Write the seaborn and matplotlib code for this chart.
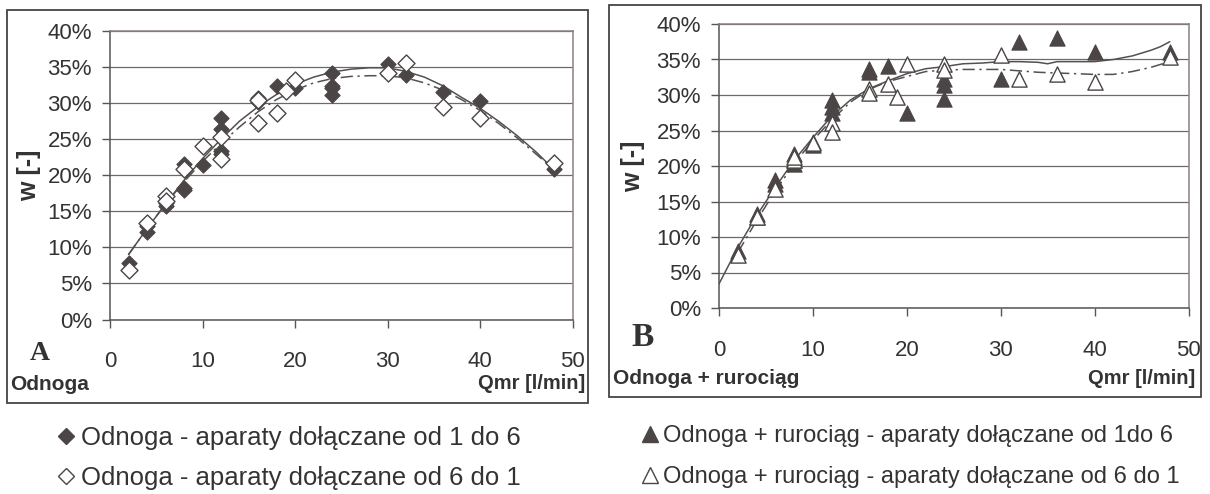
import matplotlib
matplotlib.use("Agg")
import matplotlib.pyplot as plt
import seaborn as sns
from matplotlib.lines import Line2D
from matplotlib.patches import Rectangle
from matplotlib.ticker import PercentFormatter, MultipleLocator

# --- panel A: Odnoga ---
a_x_full = [2, 4, 4, 6, 6, 8, 8, 8, 10, 12, 12, 12, 12, 16, 16, 18, 20, 24, 24, 24, 24, 30, 32, 36, 40, 48]
a_y_full = [7.8, 12.2, 12.9, 16.1, 15.7, 21.6, 18.2, 17.9, 21.4, 27.9, 26.4, 23.4, 23.0, 30.7, 30.2, 32.4,
            32.1, 34.2, 32.4, 32.1, 31.1, 35.4, 33.9, 31.6, 30.3, 20.9]
a_x_open = [2, 4, 6, 6, 8, 10, 12, 12, 16, 16, 18, 19, 20, 30, 32, 36, 40, 48]
a_y_open = [6.8, 13.4, 17.1, 16.4, 20.8, 24.0, 25.3, 22.3, 27.3, 30.4, 28.7, 31.7, 33.2, 34.2, 35.5, 29.4,
            28.0, 21.7]
a_trend_x = [2, 4, 6, 8, 10, 12, 14, 16, 18, 20, 22, 24, 26, 28, 30, 32, 34, 36, 38, 40, 42, 44, 46, 48]
a_trend_full = [9.0, 12.6, 16.0, 19.3, 22.3, 25.0, 27.5, 29.5, 31.2, 32.6, 33.6, 34.3, 34.7, 34.9, 34.9,
                34.4, 33.6, 32.4, 30.8, 29.3, 27.5, 25.5, 23.3, 20.8]
a_trend_open = [9.0, 12.6, 16.0, 19.1, 21.9, 24.4, 26.7, 28.8, 30.5, 31.8, 32.8, 33.4, 33.7, 33.8, 33.8,
                33.5, 32.8, 31.8, 30.5, 29.0, 27.2, 25.2, 23.0, 20.8]

# --- panel B: Odnoga + rurociag ---
b_x_full = [2, 4, 4, 6, 6, 8, 8, 8, 10, 10, 12, 12, 12, 16, 16, 18, 20, 24, 24, 24, 30, 32, 36, 40, 48]
b_y_full = [8.0, 13.3, 12.8, 18.0, 17.5, 21.7, 20.8, 20.3, 22.9, 23.4, 29.3, 28.3, 27.4, 33.7, 33.3, 34.1,
            27.5, 32.3, 31.4, 29.5, 32.2, 37.5, 38.0, 36.1, 36.0]
b_x_open = [2, 4, 6, 8, 8, 10, 12, 12, 16, 16, 18, 19, 20, 24, 24, 30, 32, 36, 40, 48]
b_y_open = [7.4, 12.8, 16.8, 20.8, 21.3, 23.2, 26.0, 24.8, 30.9, 30.3, 31.6, 29.7, 34.4, 34.4, 33.5, 35.7,
            32.3, 32.9, 31.9, 35.3]
b_trend_x_full = [0, 2, 4, 6, 8, 10, 12, 14, 16, 18, 20, 22, 24, 26, 28, 30, 32, 34, 35, 36, 38, 40, 42,
                  44, 46, 47, 48]
b_trend_full = [3.4, 8.5, 13.0, 17.0, 20.8, 24.0, 27.0, 29.3, 30.9, 32.0, 33.0, 33.7, 34.0, 34.4, 34.5,
                34.7, 34.7, 34.6, 34.4, 34.7, 34.7, 34.7, 35.0, 35.5, 36.3, 36.8, 37.5]
b_trend_x_open = [2, 4, 6, 8, 10, 12, 14, 16, 18, 20, 22, 24, 26, 28, 30, 32, 34, 36, 38, 40, 42, 44, 46, 48]
b_trend_open = [7.8, 12.3, 16.5, 20.3, 23.6, 26.5, 29.0, 30.8, 31.9, 32.6, 33.3, 33.5, 33.6, 33.6, 33.6,
                33.4, 33.2, 33.1, 33.0, 32.9, 32.9, 33.3, 33.9, 34.7]

labels_a = ["Odnoga - aparaty dołączane od 1 do 6", "Odnoga - aparaty dołączane od 6 do 1"]
labels_b = ["Odnoga + rurociąg - aparaty dołączane od 1do 6", "Odnoga + rurociąg - aparaty dołączane od 6 do 1"]

sns.set_theme(style="white")
plt.rcParams["font.family"] = ["Liberation Sans", "DejaVu Sans"]

W, H = 1210, 494
fig = plt.figure(figsize=(W / 100, H / 100), dpi=100)

MK = "#4b4545"
LN = "#555050"
GRID = "#6e6868"
FRAME = "#8c8080"
TXT = "#333333"


def fx(px):
    return px / W


def fy(py):
    return 1 - py / H


def style_axes(ax, label_x):
    ax.set_xlim(0, 50)
    ax.set_ylim(0, 40)
    ax.xaxis.set_major_locator(MultipleLocator(10))
    ax.yaxis.set_major_locator(MultipleLocator(5))
    ax.yaxis.set_major_formatter(PercentFormatter(xmax=100, decimals=0))
    ax.grid(axis="y", color=GRID, lw=0.9)
    ax.grid(axis="x", visible=False)
    for side in ["left", "bottom"]:
        ax.spines[side].set_color("#5a5454")
        ax.spines[side].set_linewidth(1.1)
    for side in ["top", "right"]:
        ax.spines[side].set_color(FRAME)
        ax.spines[side].set_linewidth(1.1)
    ax.tick_params(axis="y", direction="out", length=6, width=1, color="#5a5454",
                   labelsize=16, labelcolor=TXT, pad=7, left=True)
    ax.tick_params(axis="x", direction="out", length=6, width=1, color="#5a5454",
                   labelsize=16, labelcolor=TXT, pad=17, bottom=True)
    ax.set_xlabel("")
    ax.set_ylabel("w [-]", fontsize=18, fontweight="bold", color=TXT, va="center")
    ax.yaxis.set_label_coords(label_x, 0.5)
    ax.set_facecolor("white")


# panel A
axA = fig.add_axes([fx(110), fy(319.5), fx(572.5 - 110), (319.5 - 31) / H])
sns.lineplot(x=a_trend_x, y=a_trend_full, ax=axA, color=LN, lw=1.1, zorder=3)
sns.lineplot(x=a_trend_x, y=a_trend_open, ax=axA, color=LN, lw=1.1, zorder=3)
axA.lines[1].set_dashes([8, 3, 1.5, 3])
sns.scatterplot(x=a_x_full, y=a_y_full, ax=axA, marker="D", s=60, color=MK, edgecolor=MK, lw=0.8, zorder=4)
sns.scatterplot(x=a_x_open, y=a_y_open, ax=axA, marker="D", s=75, facecolor="white", edgecolor=MK,
                lw=1.0, zorder=4)
style_axes(axA, -0.174)

# panel B
axB = fig.add_axes([fx(719), fy(308), fx(1188.5 - 719), (308 - 24) / H])
sns.lineplot(x=b_trend_x_full, y=b_trend_full, ax=axB, color=LN, lw=1.1, zorder=3)
sns.lineplot(x=b_trend_x_open, y=b_trend_open, ax=axB, color=LN, lw=1.1, zorder=3)
axB.lines[1].set_dashes([8, 3, 1.5, 3])
sns.scatterplot(x=b_x_full, y=b_y_full, ax=axB, marker="^", s=120, color=MK, edgecolor=MK, lw=0.8, zorder=4)
sns.scatterplot(x=b_x_open, y=b_y_open, ax=axB, marker="^", s=120, facecolor="white", edgecolor=MK,
                lw=1.0, zorder=4)
style_axes(axB, -0.183)

# panel frames
fig.patches.append(Rectangle((fx(7), fy(403)), fx(588 - 7), (403 - 10) / H, transform=fig.transFigure,
                             fill=False, ec="#444", lw=1.3))
fig.patches.append(Rectangle((fx(609), fy(397)), fx(1201 - 609), (397 - 5) / H, transform=fig.transFigure,
                             fill=False, ec="#444", lw=1.3))

# panel annotations
fig.text(fx(40), fy(353), "A", family=["Liberation Serif"], fontsize=20, fontweight="bold",
         color=TXT, ha="center", va="center")
fig.text(fx(10), fy(384), "Odnoga", fontsize=15, fontweight="bold", color=TXT, ha="left", va="center")
fig.text(fx(585), fy(383), "Qmr [l/min]", fontsize=14.5, fontweight="bold", color=TXT,
         ha="right", va="center")
fig.text(fx(643), fy(337), "B", family=["Liberation Serif"], fontsize=24, fontweight="bold",
         color=TXT, ha="center", va="center")
fig.text(fx(613), fy(379), "Odnoga + rurociąg", fontsize=15, fontweight="bold", color=TXT,
         ha="left", va="center")
fig.text(fx(1195), fy(379), "Qmr [l/min]", fontsize=14.5, fontweight="bold", color=TXT,
         ha="right", va="center")

# legends below panels
hA = [Line2D([], [], ls="", marker="D", ms=8, color=MK, mec=MK),
      Line2D([], [], ls="", marker="D", ms=8, mfc="white", mec=MK, mew=1.0)]
hB = [Line2D([], [], ls="", marker="^", ms=12, color=MK, mec=MK),
      Line2D([], [], ls="", marker="^", ms=12, mfc="white", mec=MK, mew=1.0)]
legA = fig.legend(hA, labels_a, loc="upper left", bbox_to_anchor=(fx(58), fy(426)), frameon=False,
                  borderaxespad=0, borderpad=0, handlelength=0.6, handletextpad=0.28,
                  labelspacing=0.62, prop={"size": 18.5})
legB = fig.legend(hB, labels_b, loc="upper left", bbox_to_anchor=(fx(643), fy(425)), frameon=False,
                  borderaxespad=0, borderpad=0, handlelength=0.6, handletextpad=0.25,
                  labelspacing=0.8, prop={"size": 17})
for leg in (legA, legB):
    for t in leg.get_texts():
        t.set_color(TXT)

fig.savefig("out.png", dpi=100, facecolor="white")
